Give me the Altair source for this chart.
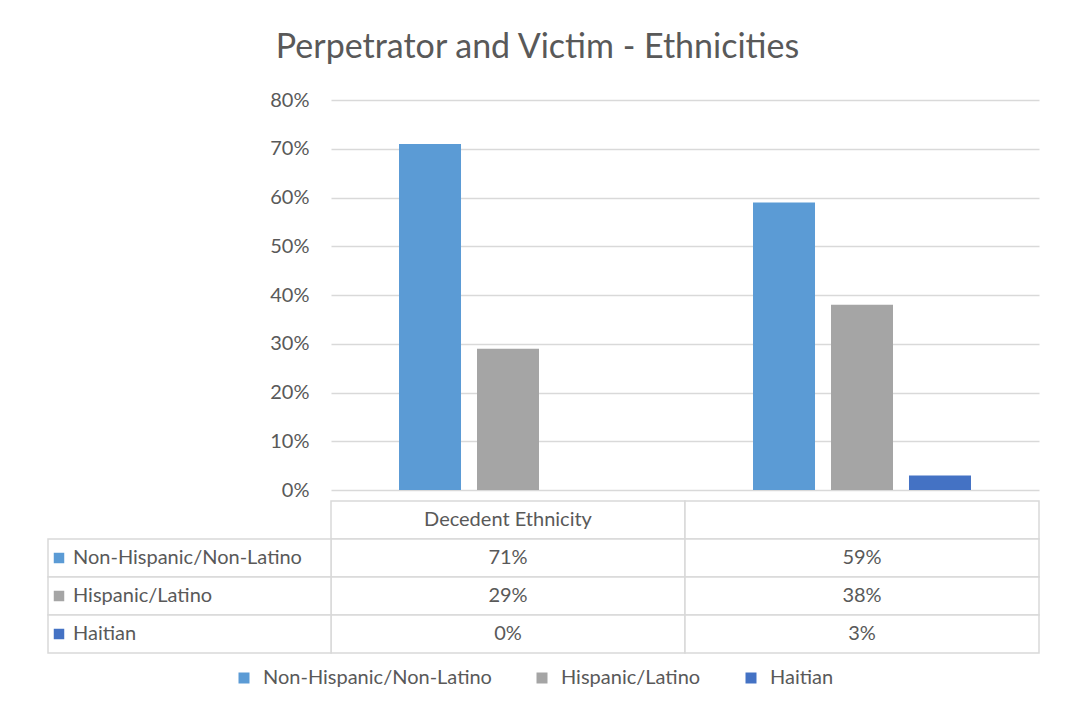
import altair as alt
import pandas as pd

# ---- data ----
categories = ["Decedent Ethnicity", " "]
series = ["Non-Hispanic/Non-Latino", "Hispanic/Latino", "Haitian"]
non_hispanic = [0.71, 0.59]
hispanic = [0.29, 0.38]
haitian = [0.00, 0.03]
colors = ["#5B9BD5", "#A5A5A5", "#4472C4"]
y_ticks = [0.0, 0.1, 0.2, 0.3, 0.4, 0.5, 0.6, 0.7, 0.8]
header_row = "hdr"

FONT = "Lato"
TXT = "#595959"
GRID = "#D9D9D9"
FS = 20

recs = []
for s, vals in zip(series, [non_hispanic, hispanic, haitian]):
    for c, v in zip(categories, vals):
        recs.append({"category": c, "series": s, "value": v,
                     "text": f"{round(v * 100)}%", "row": s})
df = pd.DataFrame(recs)

hdr = pd.DataFrame({"category": categories, "row": [header_row] * 2,
                    "text": [categories[0], ""]})
cells = pd.concat([hdr, df[["category", "row", "text"]]], ignore_index=True)
labels = pd.DataFrame({"series": series, "row": series})

row_domain = [header_row] + series
x_scale = alt.Scale(domain=categories, paddingInner=0, paddingOuter=0)
y_row = alt.Y("row:N", scale=alt.Scale(domain=row_domain, paddingInner=0, paddingOuter=0),
              axis=None, sort=row_domain)
color_scale = alt.Scale(domain=series, range=colors)

bars = alt.Chart(df).mark_bar().encode(
    x=alt.X("category:N", scale=x_scale, axis=None, sort=categories),
    xOffset=alt.XOffset("series:N", sort=series,
                        scale=alt.Scale(domain=series, paddingInner=0.205, paddingOuter=0.872)),
    y=alt.Y("value:Q", scale=alt.Scale(domain=[0, 0.8], nice=False),
            axis=alt.Axis(values=y_ticks, format=".0%", title=None, domain=False, ticks=False,
                          labelFontSize=FS, labelColor=TXT, labelFont=FONT, labelPadding=22,
                          gridColor=GRID, gridWidth=1.5)),
    color=alt.Color("series:N", scale=color_scale, sort=series,
                    legend=alt.Legend(orient="none", direction="horizontal", title=None,
                                      legendX=-97, legendY=568,
                                      symbolType="square", symbolSize=121, symbolStrokeWidth=0,
                                      labelFontSize=FS, labelColor=TXT, labelFont=FONT,
                                      labelLimit=400, columnPadding=40, labelOffset=9)),
).properties(width=708, height=390)

cell_rects = alt.Chart(cells).mark_rect(fill="white", stroke=GRID, strokeWidth=1.5).encode(
    x=alt.X("category:N", scale=x_scale, axis=None, sort=categories),
    y=y_row,
)
cell_text = alt.Chart(cells).mark_text(fontSize=FS, color=TXT, font=FONT).encode(
    x=alt.X("category:N", scale=x_scale, axis=None, sort=categories),
    y=y_row,
    text="text:N",
)
label_rects = alt.Chart(labels).mark_rect(fill="white", stroke=GRID, strokeWidth=1.5).encode(
    x=alt.value(-283), x2=alt.value(0), y=y_row,
)
label_swatch = alt.Chart(labels).mark_square(size=110, opacity=1).encode(
    x=alt.value(-272), y=y_row,
    color=alt.Color("series:N", scale=color_scale, legend=None),
)
label_text = alt.Chart(labels).mark_text(align="left", fontSize=FS, color=TXT, font=FONT).encode(
    x=alt.value(-258), y=y_row, text="series:N",
)
table = alt.layer(cell_rects, cell_text, label_rects, label_swatch, label_text).properties(
    width=708, height=152)

chart = alt.vconcat(bars, table, spacing=0).properties(
    title=alt.TitleParams("Perpetrator and Victim - Ethnicities", fontSize=34, font=FONT,
                          color=TXT, fontWeight="normal", anchor="middle", offset=25, dx=-6),
    padding={"left": 39, "top": 23, "right": 20, "bottom": 20},
    background="white",
).configure_view(stroke=None)

chart.save("out.html", embed_options={"renderer": "svg", "actions": False})
